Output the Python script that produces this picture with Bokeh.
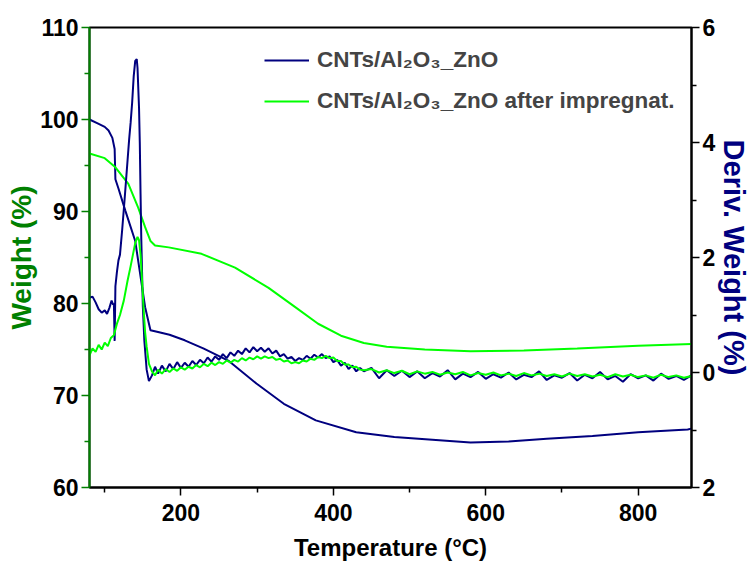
from bokeh.plotting import figure
from bokeh.models import (Range1d, LinearAxis, FixedTicker, Legend, LegendItem)
from bokeh.embed import file_html
from bokeh.resources import INLINE

# ---- data ----
tg_blue_T = [80, 90, 100, 105, 110, 113, 114, 118, 127, 140, 153, 160, 170, 185, 205, 230, 262,
             299, 335, 377, 430, 480, 530, 580, 630, 680, 740, 800, 865, 870]
tg_blue_w = [100.0, 99.6, 99.2, 98.8, 98.0, 96.8, 93.5, 92.5, 90.1, 86.8, 79.6, 77.1, 76.9, 76.6,
             76.0, 75.1, 73.8, 71.3, 69.1, 67.3, 66.0, 65.5, 65.2, 64.9, 65.0, 65.3, 65.6, 66.0,
             66.3, 66.4]

tg_green_T = [80, 100, 114, 131, 144, 153, 160, 166, 184, 227, 271, 315, 350, 380, 410, 440, 470,
              520, 580, 650, 720, 800, 870]
tg_green_w = [96.3, 95.8, 94.8, 93.0, 90.4, 88.3, 86.8, 86.3, 86.1, 85.4, 83.9, 81.7, 79.6, 77.8,
              76.5, 75.7, 75.3, 75.0, 74.8, 74.9, 75.1, 75.4, 75.6]

dtg_blue_T = [80, 84, 88, 92, 96, 100, 103, 106, 109, 111, 112, 113, 114, 116, 118, 120, 123, 126,
              128, 130, 132, 134, 136, 138, 140, 142, 143, 145, 146, 147, 148, 150, 152, 155, 158,
              162, 166, 170, 175, 180, 185, 190, 195, 200, 205, 210, 215, 220, 225, 230, 235, 240,
              245, 250, 255, 260, 265, 270, 275, 280, 285, 290, 295, 300, 305, 310, 315, 320, 325,
              330, 335, 340, 345, 350, 355, 360, 365, 370, 375, 380, 385, 390, 395, 400, 405, 410,
              415, 420, 425, 430, 435, 440, 450, 460, 470, 480, 490, 500, 510, 520, 530, 540, 550,
              560, 570, 580, 590, 600, 610, 620, 630, 640, 650, 660, 670, 680, 690, 700, 710, 720,
              730, 740, 750, 760, 770, 780, 790, 800, 810, 820, 830, 840, 850, 860, 870]
dtg_blue_d = [1.30, 1.32, 1.22, 1.10, 1.04, 1.08, 1.02, 1.12, 1.25, 1.18, 1.20, 0.55, 1.50, 1.75,
              1.95, 2.05, 2.50, 3.00, 3.35, 3.70, 4.05, 4.35, 4.70, 5.15, 5.42, 5.45, 5.30, 4.60,
              4.00, 3.10, 2.30, 1.15, 0.55, 0.05, -0.15, -0.05, 0.10, -0.02, 0.12, 0.02, 0.15,
              0.06, 0.18, 0.08, 0.17, 0.10, 0.20, 0.13, 0.22, 0.16, 0.26, 0.19, 0.28, 0.22, 0.32,
              0.25, 0.35, 0.29, 0.38, 0.32, 0.42, 0.35, 0.44, 0.37, 0.43, 0.36, 0.42, 0.33, 0.38,
              0.28, 0.32, 0.24, 0.27, 0.20, 0.25, 0.22, 0.29, 0.24, 0.31, 0.26, 0.32, 0.25, 0.28,
              0.18, 0.22, 0.12, 0.17, 0.06, 0.12, 0.02, 0.08, 0.02, 0.08, -0.10, 0.04, -0.06, 0.03,
              -0.08, 0.02, -0.10, -0.01, -0.07, 0.04, -0.12, -0.02, -0.08, 0.01, -0.11, -0.03,
              -0.09, 0.00, -0.12, -0.04, -0.08, 0.02, -0.13, -0.05, -0.09, -0.01, -0.14, -0.04,
              -0.10, 0.01, -0.12, -0.06, -0.16, -0.03, -0.10, -0.05, -0.14, -0.02, -0.11, -0.06,
              -0.13, -0.05]

dtg_green_T = [80, 84, 88, 92, 96, 100, 104, 108, 112, 116, 120, 125, 130, 134, 137, 140, 143, 145,
               147, 149, 151, 153, 155, 158, 162, 166, 170, 175, 180, 185, 190, 195, 200, 205, 210,
               215, 220, 225, 230, 235, 240, 245, 250, 255, 260, 265, 270, 275, 280, 285, 290, 295,
               300, 305, 310, 315, 320, 325, 330, 335, 340, 345, 350, 355, 360, 365, 370, 375, 380,
               385, 390, 395, 400, 405, 410, 415, 420, 425, 430, 435, 440, 450, 460, 470, 480, 490,
               500, 510, 520, 530, 540, 550, 560, 570, 580, 590, 600, 610, 620, 630, 640, 650, 660,
               670, 680, 690, 700, 710, 720, 730, 740, 750, 760, 770, 780, 790, 800, 810, 820, 830,
               840, 850, 860, 870]
dtg_green_d = [0.30, 0.42, 0.36, 0.48, 0.40, 0.52, 0.46, 0.60, 0.65, 0.85, 1.00, 1.25, 1.60, 1.85,
               2.05, 2.25, 2.36, 2.30, 2.05, 1.60, 1.10, 0.70, 0.45, 0.15, 0.02, -0.05, 0.05, -0.02,
               0.06, 0.01, 0.07, 0.03, 0.09, 0.05, 0.10, 0.07, 0.13, 0.09, 0.15, 0.11, 0.17, 0.13,
               0.18, 0.15, 0.21, 0.17, 0.22, 0.19, 0.25, 0.21, 0.26, 0.23, 0.28, 0.24, 0.28, 0.25,
               0.27, 0.22, 0.24, 0.19, 0.21, 0.16, 0.18, 0.16, 0.21, 0.19, 0.24, 0.22, 0.27, 0.25,
               0.29, 0.25, 0.26, 0.20, 0.20, 0.14, 0.14, 0.09, 0.10, 0.05, 0.04, 0.06, 0.00, 0.04,
               -0.01, 0.03, -0.03, 0.02, -0.02, 0.01, -0.04, 0.00, -0.03, 0.01, -0.05, -0.01, -0.04,
               0.00, -0.05, -0.02, -0.06, -0.01, -0.05, -0.02, -0.06, -0.03, -0.07, -0.02, -0.06,
               -0.03, -0.07, -0.04, -0.08, -0.03, -0.07, -0.04, -0.08, -0.05, -0.09, -0.04, -0.08,
               -0.05, -0.09, -0.06]

x_ticks = [200, 400, 600, 800]
x_minor = [100, 300, 500, 700]
w_ticks = [60, 70, 80, 90, 100, 110]
w_minor = [65, 75, 85, 95, 105]
d_ticks = [-2, 0, 2, 4, 6]
d_minor = [-1, 1, 3, 5]

label_1 = "CNTs/Al\u2082O\u2083_ZnO"
label_2 = "CNTs/Al\u2082O\u2083_ZnO after impregnat."
x_title = "Temperature (\u00b0C)"
w_title = "Weight (%)"
d_title = "Deriv. Weight (%)"

NAVY = "#00007F"
LIME = "#00FF00"
GREEN = "#008000"
FONT = "Liberation Sans"

p = figure(frame_width=602, frame_height=460, output_backend="svg", toolbar_location=None,
           x_range=Range1d(80, 870), y_range=Range1d(60, 110),
           min_border_left=89, min_border_right=54, min_border_top=27, min_border_bottom=82)
p.extra_y_ranges = {"deriv": Range1d(-2, 6)}
p.xgrid.visible = False
p.ygrid.visible = False
p.outline_line_color = "black"
p.outline_line_width = 2

r1 = p.line(tg_blue_T, tg_blue_w, line_color=NAVY, line_width=2)
r2 = p.line(tg_green_T, tg_green_w, line_color=LIME, line_width=2)
p.line(dtg_blue_T, dtg_blue_d, line_color=NAVY, line_width=2, y_range_name="deriv")
p.line(dtg_green_T, dtg_green_d, line_color=LIME, line_width=2, y_range_name="deriv")

def style(ax, color):
    ax.axis_line_color = color
    ax.axis_line_width = 2
    ax.major_tick_line_color = color
    ax.minor_tick_line_color = color
    ax.major_tick_line_width = 1.5
    ax.minor_tick_line_width = 1.5
    ax.major_tick_in = 0
    ax.major_tick_out = 8
    ax.minor_tick_in = 0
    ax.minor_tick_out = 5
    ax.major_label_text_font = FONT
    ax.major_label_text_font_style = "bold"
    ax.major_label_text_font_size = "23px"
    ax.major_label_text_color = "black"
    ax.axis_label_text_font = FONT
    ax.axis_label_text_font_style = "bold"

# bottom
xa = p.xaxis[0]
style(xa, "black")
xa.ticker = FixedTicker(ticks=x_ticks, minor_ticks=x_minor)
xa.axis_label = x_title
xa.axis_label_text_font_size = "24px"
xa.axis_label_text_color = "black"
xa.major_label_standoff = 8
xa.axis_label_standoff = 10

# left
ya = p.yaxis[0]
style(ya, GREEN)
ya.ticker = FixedTicker(ticks=w_ticks, minor_ticks=w_minor)
ya.axis_label = w_title
ya.axis_label_text_font_size = "28px"
ya.axis_label_text_color = GREEN
ya.major_label_standoff = 3
ya.axis_label_standoff = 0

# right
ra = LinearAxis(y_range_name="deriv")
style(ra, "black")
ra.ticker = FixedTicker(ticks=d_ticks, minor_ticks=d_minor)
ra.major_label_overrides = {-2: "2"}
ra.axis_label = d_title
ra.axis_label_text_font_size = "29px"
ra.axis_label_text_color = NAVY
ra.major_label_standoff = 3
ra.axis_label_standoff = 0
p.add_layout(ra, "right")

legend = Legend(items=[LegendItem(label=label_1, renderers=[r1]),
                       LegendItem(label=label_2, renderers=[r2])],
                location=(175, 373), orientation="vertical",
                border_line_color=None, background_fill_alpha=0,
                label_text_font=FONT, label_text_font_style="bold",
                label_text_font_size="22.5px", glyph_width=45, glyph_height=20,
                label_height=20, spacing=15, padding=0, margin=0, label_standoff=8)
p.add_layout(legend)

open("out.html", "w").write(file_html(p, INLINE))
